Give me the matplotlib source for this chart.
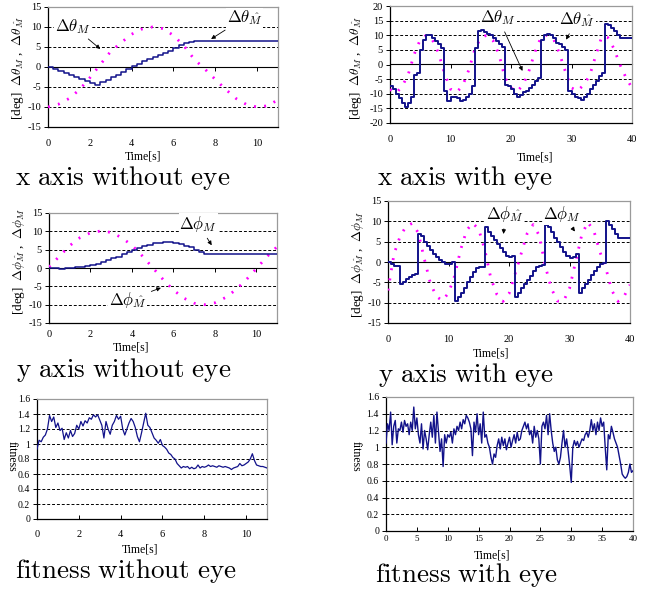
import numpy as np
import matplotlib
matplotlib.use('Agg')
import matplotlib.pyplot as plt

plt.rcParams['mathtext.fontset'] = 'cm'
plt.rcParams['font.family'] = ['Liberation Serif', 'DejaVu Serif']
plt.rcParams['axes.unicode_minus'] = False

# ---------------- data ----------------
# x axis without eye (t step 0.25 s for blue, 0.5 s for magenta)
x_noeye_step = 0.25
x_noeye_M = [0, -0.5, -1.0, -1.6, -2.1, -2.6, -3.1, -3.5, -3.9, -4.4,
             -3.8, -3.2, -2.6, -2.0, -1.3, -0.5, 0.2, 0.8, 1.4, 2.0,
             2.6, 3.1, 3.6, 4.1, 4.7, 5.4, 5.9, 6.2, 6.4, 6.5,
             6.5, 6.5, 6.5, 6.5, 6.5, 6.5, 6.5, 6.5, 6.5, 6.5,
             6.5, 6.5, 6.5, 6.5, 6.5]
x_noeye_hat_step = 0.5
x_noeye_hat = [-10, -9.3, -7.9, -5.7, -2.7, 0.6, 3.9, 6.1, 8.2, 9.5,
               10, 9.6, 7.9, 5.3, 1.9, -0.5, -3.1, -5.6, -7.9, -9.4,
               -10, -9.7, -8.2]

# x axis with eye
x_eye_step = 0.5
x_eye_M = [-7.5, -8.5, -10, -11.5, -13, -14.5, -13, -11, -3.5, -3,
           5, 8.5, 10, 10, 9, 8, 7, 5.5, -9, -12.5,
           -11, -11, -11.5, -12.5, -12, -11, -10, -7.5, 5.5, 11.5,
           11.8, 11, 10.5, 10, 9, 8, 7, 6, -7, -7.5,
           -8.5, -10, -11, -10.5, -9.5, -9, -8, -7, -5.5, -4.5,
           8.5, 10, 10.5, 10, 9, 7.5, 7, 6, 5, -9,
           -10, -11, -11.5, -12, -11, -10, -8.5, -7, -5.5, -4,
           -3, 14, 13.5, 12.5, 11.5, 10, 9, 9, 9, 9,
           9]
x_eye_hat_step = 1.0
x_eye_hat = [-8.5, -9.8, -7.5, -3.5, 3.5, 8.5, 10, 8.5, 4, -3,
             -8.4, -9.5, -7.3, -2, 5, 9.2, 10, 8.3, 3.5, -4.5,
             -8, -9.2, -7, -2, 4.5, 9.5, 10, 8.9, 3.8, -2.5,
             -8, -9, -7, -3.8, 3, 9.5, 9.2, 5.5, 0, -4.5,
             -8]

# y axis without eye
y_noeye_step = 0.25
y_noeye_M = [0, -0.1, -0.15, -0.1, 0.0, 0.15, 0.3, 0.6, 0.9, 1.2,
             1.6, 2.1, 2.6, 3.1, 3.7, 4.3, 4.9, 5.5, 6.0, 6.4,
             6.7, 6.9, 7.0, 7.0, 6.9, 6.6, 6.1, 5.6, 5.0, 4.4,
             3.9, 3.9, 3.9, 3.9, 3.9, 3.9, 3.9, 3.9, 3.9, 3.9,
             3.9, 3.9, 3.9, 3.9, 3.9]
y_noeye_hat_step = 0.5
y_noeye_hat = [0.3, 3.2, 6.1, 8.3, 9.6, 10.1, 9.7, 8.3, 6.2, 3.3,
               0.1, -3.1, -6.0, -8.2, -9.6, -10, -9.5, -8.1, -6, -3.3,
               -0.2, 3, 5.8]

# y axis with eye
y_eye_step = 0.5
y_eye_M = [0, -0.5, -1, -1, -5.5, -5, -4.3, -3.8, -3.3, -3,
           7, 6.5, 5, 4, 3, 2, 1.2, 0.5, 0, -0.6,
           -0.6, 0, -9.5, -8.5, -7.5, -6.5, -5, -3.8, -2.5, -1.5,
           -1.2, -1.2, 8.5, 7.5, 6.5, 5.5, 4.5, 3.5, 2.5, 1.5,
           1.2, 1.5, -8.5, -7.5, -6.5, -5.5, -4.5, -3.5, -2.3, -1.2,
           -1, -0.8, 9.2, 8.5, 7.5, 6, 5, 3.8, 2.5, 1.5,
           1, 1.3, 2, -7.5, -6.5, -5.5, -4.5, -3.3, -2.2, -1.2,
           -0.5, -0.2, 10, 9, 8, 7, 6, 5.8, 5.8, 5.8,
           5.8]
y_eye_hat_step = 1.0
y_eye_hat = [-7, 2, 6.3, 8.8, 9.5, 7.2, 0.8, -5.2, -8.5, -9.5,
             -7.6, -3.5, 3, 7.8, 9.6, 8, 3, -4, -8, -9.7,
             -7.8, -3, 2, 7, 9.2, 6.5, -1, -6.5, -9.6, -9.7,
             -6.5, 0, 6.5, 9.8, 7.8, 2.6, -1.5, -7, -9.7, -8.5,
             -5.6]

# fitness without eye (0.1 s)
fit_noeye_step = 0.1
fit_noeye = [0.93, 1.05, 1.03, 1.09, 1.12, 1.2, 1.38, 1.3, 1.36, 1.22,
             1.28, 1.18, 1.21, 1.06, 1.15, 1.08, 1.18, 1.1, 1.14, 1.25,
             1.2, 1.3, 1.24, 1.31, 1.28, 1.35, 1.33, 1.39, 1.36, 1.39,
             1.32, 1.25, 1.08, 1.3, 1.2, 1.13, 1.25, 1.3, 1.38, 1.33,
             1.37, 1.2, 1.12, 1.2, 1.28, 1.34, 1.3, 1.22, 1.1, 1.03,
             1.15, 1.28, 1.41, 1.25, 1.22, 1.15, 1.08, 1.05, 1.01, 1.06,
             0.98, 0.96, 0.93, 0.88, 0.86, 0.82, 0.8, 0.74, 0.71, 0.68,
             0.7, 0.69, 0.7, 0.67, 0.69, 0.67, 0.68, 0.72, 0.68, 0.7,
             0.69, 0.7, 0.72, 0.7, 0.71, 0.7, 0.69, 0.71, 0.7, 0.69,
             0.7, 0.69, 0.68, 0.66, 0.68, 0.69, 0.7, 0.74, 0.71, 0.72,
             0.74, 0.76, 0.8, 0.87, 0.78, 0.72, 0.71, 0.7, 0.7, 0.69,
             0.68]

# fitness with eye (0.25 s)
fit_eye_step = 0.25
fit_eye = [1.05, 1.28, 1.2, 1.42, 1.03, 1.25, 1.32, 1.05,
           1.22, 1.2, 1.3, 1.18, 1.32, 1.25, 1.28, 1.15,
           1.3, 1.2, 1.48, 1.22, 1.35, 1.15, 1.05, 1.28,
           0.98, 1.2, 1.1, 0.97, 1.15, 1.3, 1.12, 1.38,
           1.05, 1.42, 1.18, 0.95, 1.1, 0.77, 1.15, 1.05,
           1.15, 1.12, 1.18, 1.05, 1.22, 1.15, 1.25, 1.2,
           1.3, 1.22, 1.33, 1.28, 1.38, 1.35, 1.3, 1.22,
           0.9, 1.3, 1.18, 1.4, 1.15, 1.28, 1.05, 1.42,
           1.12, 1.15, 1.05, 1.0, 0.88, 0.8, 0.92, 0.88,
           1.02, 1.1, 0.98, 1.12, 1.02, 1.1, 0.97, 1.05,
           1.12, 1.0, 1.08, 1.15, 1.05, 1.18, 1.08, 1.1,
           1.2, 1.25, 1.3, 1.22, 1.28, 1.15, 1.2, 1.05,
           1.25, 1.12, 1.2, 1.1, 0.8, 1.25, 1.3, 1.22,
           1.38, 1.15, 1.4, 1.2, 1.05, 0.95, 1.0, 0.85,
           0.8, 0.88, 1.05, 1.2, 1.0, 1.1, 0.95, 0.78,
           0.58, 1.0, 1.08, 1.02, 1.07, 1.0, 1.05, 1.1,
           1.08, 1.15, 1.18, 1.12, 1.2, 1.33, 1.2, 1.28,
           1.15, 1.3, 1.2, 1.35, 1.25, 1.3, 1.0, 0.73,
           1.15, 1.1, 1.25, 1.18, 1.1, 1.05, 1.0, 0.9,
           0.8, 0.68, 0.65, 0.63, 0.65, 0.7, 0.8, 0.7,
           0.72]

ticks_deg15 = [-15, -10, -5, 0, 5, 10, 15]
ticks_deg20 = [-20, -15, -10, -5, 0, 5, 10, 15, 20]
ticks_fit = [0, 0.2, 0.4, 0.6, 0.8, 1.0, 1.2, 1.4, 1.6]
ticks_fit_lbl = ['0', '0.2', '0.4', '0.6', '0.8', '1', '1.2', '1.4', '1.6']
ticks_t11 = [0, 2, 4, 6, 8, 10]
ticks_t40a = [0, 10, 20, 30, 40]
ticks_t40b = [0, 5, 10, 15, 20, 25, 30, 35, 40]

# ---------------- drawing ----------------
W, H = 655, 590
fig = plt.figure(figsize=(W / 100, H / 100), dpi=100)

NAVY = '#12128a'
MAG = '#ff00ff'
MAG_LS = (0, (0.7, 3.0))


def add_ax(l, r, t, b):
    return fig.add_axes([l / W, 1 - b / H, (r - l) / W, (b - t) / H])


def tt(vals, step):
    return np.arange(len(vals)) * step


def style(ax, xlim, ylim, xt, yt, ylbl=None, zero_ticks=True, xfs=7.5,
          xpad=8, yfs=7.5, zero_color='black', zero_lw=1.0):
    ax.set_xlim(*xlim)
    ax.set_ylim(*ylim)
    ax.set_yticks(yt)
    if ylbl is not None:
        ax.set_yticklabels(ylbl)
    ax.set_xticks(xt)
    for s in ['top', 'right']:
        ax.spines[s].set_color('#9a9a9a')
        ax.spines[s].set_linewidth(0.9)
    for s in ['left', 'bottom']:
        ax.spines[s].set_color('black')
        ax.spines[s].set_linewidth(0.9)
    for g in yt:
        if g in (ylim[0], ylim[1]) or (zero_ticks and g == 0):
            continue
        ax.axhline(g, color='black', lw=0.7, ls=(0, (3, 2)), zorder=1)
    ax.tick_params(axis='y', direction='out', length=3, width=0.7,
                   labelsize=yfs, pad=2)
    if zero_ticks:
        ax.tick_params(axis='x', length=0, labelsize=xfs, pad=xpad)
        sec = ax.secondary_xaxis(0.5)
        sec.set_xticks(xt)
        sec.set_xticklabels([])
        sec.tick_params(axis='x', direction='in', length=3, width=0.7,
                        labelbottom=False, labeltop=False)
        sec.spines['bottom'].set_color(zero_color)
        sec.spines['bottom'].set_linewidth(zero_lw)
    else:
        ax.tick_params(axis='x', direction='in', length=3, width=0.7,
                       labelsize=xfs, pad=xpad)


def arrow_note(ax, txt, xy, xytext, fs=12):
    ax.annotate(txt, xy=xy, xytext=xytext, fontsize=fs, ha='center',
                va='center',
                bbox=dict(fc='white', ec='none', pad=0.5),
                arrowprops=dict(arrowstyle='-|>', lw=0.6, color='black',
                                mutation_scale=6, shrinkA=3, shrinkB=0),
                zorder=5)


# Panel 1: x axis without eye
ax1 = add_ax(48, 278, 7, 127)
ax1.plot(tt(x_noeye_hat, x_noeye_hat_step), x_noeye_hat, color=MAG,
         lw=2.0, ls=MAG_LS, zorder=3)
ax1.plot(tt(x_noeye_M, x_noeye_step), x_noeye_M, color=NAVY, lw=1.1,
         drawstyle='steps-post', zorder=4)
style(ax1, (0, 11), (-15, 15), ticks_t11, ticks_deg15, xpad=9)
arrow_note(ax1, r'$\Delta\theta_M$', (2.5, 4.5), (1.2, 10.2))
arrow_note(ax1, r'$\Delta\theta_{\hat{M}}$', (7.8, 7.0), (9.4, 12.3))

# Panel 2: x axis with eye
ax2 = add_ax(390, 632, 6, 123)
ax2.plot(tt(x_eye_hat, x_eye_hat_step), x_eye_hat, color=MAG, lw=2.0,
         ls=MAG_LS, zorder=3)
ax2.plot(tt(x_eye_M, x_eye_step), x_eye_M, color=NAVY, lw=1.4,
         drawstyle='steps-post', zorder=4)
style(ax2, (0, 40), (-20, 20), ticks_t40a, ticks_deg20, xpad=9)
arrow_note(ax2, r'$\Delta\theta_M$', (21.9, -2.2), (17.9, 15.9))
arrow_note(ax2, r'$\Delta\theta_{\hat{M}}$', (29.1, 8.5), (30.9, 15.2))

# Panel 3: y axis without eye
ax3 = add_ax(49, 277, 213, 323)
ax3.plot(tt(y_noeye_hat, y_noeye_hat_step), y_noeye_hat, color=MAG,
         lw=2.0, ls=MAG_LS, zorder=3)
ax3.plot(tt(y_noeye_M, y_noeye_step), y_noeye_M, color=NAVY, lw=1.1,
         drawstyle='steps-post', zorder=4)
style(ax3, (0, 11), (-15, 15), ticks_t11, ticks_deg15, xpad=5,
      zero_color='#606060', zero_lw=1.8)
arrow_note(ax3, r'$\Delta\phi_M$', (7.85, 6.2), (7.2, 12.0))
arrow_note(ax3, r'$\Delta\phi_{\hat{M}}$', (5.4, -5.4), (3.8, -8.8))

# Panel 4: y axis with eye
ax4 = add_ax(388, 630, 201, 323)
ax4.plot(tt(y_eye_hat, y_eye_hat_step), y_eye_hat, color=MAG, lw=2.0,
         ls=MAG_LS, zorder=3)
ax4.plot(tt(y_eye_M, y_eye_step), y_eye_M, color=NAVY, lw=1.4,
         drawstyle='steps-post', zorder=4)
style(ax4, (0, 40), (-15, 15), ticks_t40a, ticks_deg15, xpad=9)
arrow_note(ax4, r'$\Delta\phi_{\hat{M}}$', (19.1, 6.9), (19.3, 11.8))
arrow_note(ax4, r'$\Delta\phi_M$', (30.9, 7.5), (28.8, 11.8))

# Panel 5: fitness without eye
ax5 = add_ax(37, 267, 399, 519)
ax5.plot(tt(fit_noeye, fit_noeye_step), fit_noeye, color=NAVY, lw=0.9,
         zorder=4)
style(ax5, (0, 11), (0, 1.6), ticks_t11, ticks_fit, ylbl=ticks_fit_lbl,
      zero_ticks=False, xpad=8, yfs=7)

# Panel 6: fitness with eye
ax6 = add_ax(386, 633, 397, 531)
ax6.plot(tt(fit_eye, fit_eye_step), fit_eye, color=NAVY, lw=1.0, zorder=4)
style(ax6, (0, 40), (0, 1.6), ticks_t40b, ticks_fit, ylbl=ticks_fit_lbl,
      zero_ticks=False, xfs=6.5, xpad=3, yfs=7)

# axis titles
for (x, y) in [(143, 156), (535, 157), (131, 348), (491, 353), (140, 549),
               (492, 555)]:
    fig.text(x / W, 1 - y / H, 'Time[s]', fontsize=8.5, ha='center',
             va='center')

ylab_th = r'[deg]  $\Delta\theta_M$ ,  $\Delta\theta_{\hat{M}}$'
ylab_ph = r'[deg]  $\Delta\phi_{\hat{M}}$ ,  $\Delta\phi_M$'
fig.text(18 / W, 1 - 68 / H, ylab_th, rotation=90, fontsize=9.5,
         ha='center', va='center')
fig.text(356 / W, 1 - 68 / H, ylab_th, rotation=90, fontsize=9.5,
         ha='center', va='center')
fig.text(19 / W, 1 - 262 / H, ylab_ph, rotation=90, fontsize=9.5,
         ha='center', va='center')
fig.text(358 / W, 1 - 265 / H, ylab_ph, rotation=90, fontsize=9.5,
         ha='center', va='center')
fig.text(12 / W, 1 - 456 / H, 'fitness', rotation=-90, fontsize=8.5,
         ha='center', va='center')
fig.text(356 / W, 1 - 456 / H, 'fitness', rotation=-90, fontsize=8.5,
         ha='center', va='center')

# captions
caps = [(15, 185, 'x\\ axis\\ without\\ eye'),
        (377, 185, 'x\\ axis\\ with\\ eye'),
        (16, 377, 'y\\ axis\\ without\\ eye'),
        (378, 382, 'y\\ axis\\ with\\ eye'),
        (15, 578, 'fitness\\ without\\ eye'),
        (375, 582, 'fitness\\ with\\ eye')]
for x, y, s in caps:
    fig.text(x / W, 1 - y / H, r'$\mathrm{' + s + '}$', fontsize=19.5,
             ha='left', va='baseline')

fig.savefig('out.png', dpi=100)
